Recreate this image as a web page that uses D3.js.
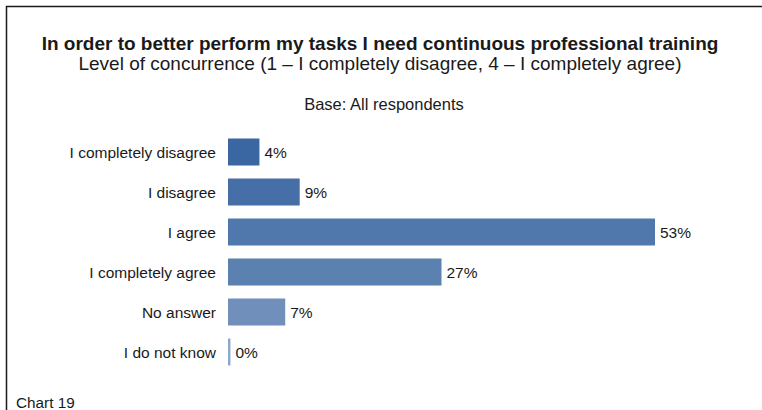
<!DOCTYPE html>
<html lang="en">
<head>
    <meta charset="UTF-8">
    <title>Chart 19</title>
    <script src="https://cdn.jsdelivr.net/npm/d3@7"></script>
    <style>
        *{
            padding: 0;
            margin: 0;
        }
        body{
            background: #fff;
            font-family: "Liberation Sans", Arial, sans-serif;
        }
        svg{
            display: block;
        }
    </style>
</head>
<body>
    <script>
        // answers, top to bottom
        let categories = ["I completely disagree","I disagree","I agree","I completely agree","No answer","I do not know"];
        let values = [3.9, 8.9, 53.0, 26.5, 7.1, 0.3];
        let valueLabels = ["4%","9%","53%","27%","7%","0%"];
        let barColors = ["#3a66a1","#456fa6","#5178ac","#5b81b1","#7090bb","#8ea8ca"];

        let W = 762, H = 410;
        let left = 228, barMax = 53;

        var svg = d3.select("body")
            .append("svg")
            .attr("width", W)
            .attr("height", H);

        // frame (top and left only)
        svg.append("path")
            .attr("d", "M6.5," + H + "V6.5H" + W)
            .attr("fill", "none")
            .attr("stroke", "#1a1a1a")
            .attr("stroke-width", 1.5);

        let x = d3.scaleLinear().domain([0, barMax]).range([left, 655]);
        let y = d3.scaleBand().domain(categories).range([132, 372]).paddingInner(0.325).paddingOuter(0.1625);

        // titles
        svg.append("text")
            .attr("x", 380).attr("y", 50)
            .attr("text-anchor", "middle")
            .attr("font-size", 19).attr("font-weight", "bold")
            .attr("fill", "#1a1a1a")
            .text("In order to better perform my tasks I need continuous professional training");
        svg.append("text")
            .attr("x", 380).attr("y", 70)
            .attr("text-anchor", "middle")
            .attr("font-size", 19)
            .attr("fill", "#1a1a1a")
            .text("Level of concurrence (1 \u2013 I completely disagree, 4 \u2013 I completely agree)");
        svg.append("text")
            .attr("x", 384).attr("y", 110)
            .attr("text-anchor", "middle")
            .attr("font-size", 16.5)
            .attr("fill", "#1a1a1a")
            .text("Base: All respondents");

        // bars
        svg.selectAll("rect.bar").data(categories).enter().append("rect")
            .attr("class", "bar")
            .attr("x", x(0))
            .attr("y", function(d){ return y(d)})
            .attr("height", y.bandwidth())
            .attr("width", function(d, i){ return Math.max(2, x(values[i]) - x(0))})
            .attr("fill", function(d, i){ return barColors[i]});

        // category labels
        svg.selectAll("text.cat").data(categories).enter().append("text")
            .attr("class", "cat")
            .attr("x", left - 12)
            .attr("y", function(d){ return y(d) + y.bandwidth() / 2 + 5.5})
            .attr("text-anchor", "end")
            .attr("font-size", 15.5)
            .attr("fill", "#1a1a1a")
            .text(function(d){ return d});

        // value labels
        svg.selectAll("text.val").data(categories).enter().append("text")
            .attr("class", "val")
            .attr("x", function(d, i){ return Math.max(x(0) + 2, x(values[i])) + 5})
            .attr("y", function(d){ return y(d) + y.bandwidth() / 2 + 5.5})
            .attr("font-size", 15.5)
            .attr("fill", "#1a1a1a")
            .text(function(d, i){ return valueLabels[i]});

        svg.append("text")
            .attr("x", 16).attr("y", 408)
            .attr("font-size", 15.3)
            .attr("fill", "#1a1a1a")
            .text("Chart 19");
    </script>
</body>
</html>
